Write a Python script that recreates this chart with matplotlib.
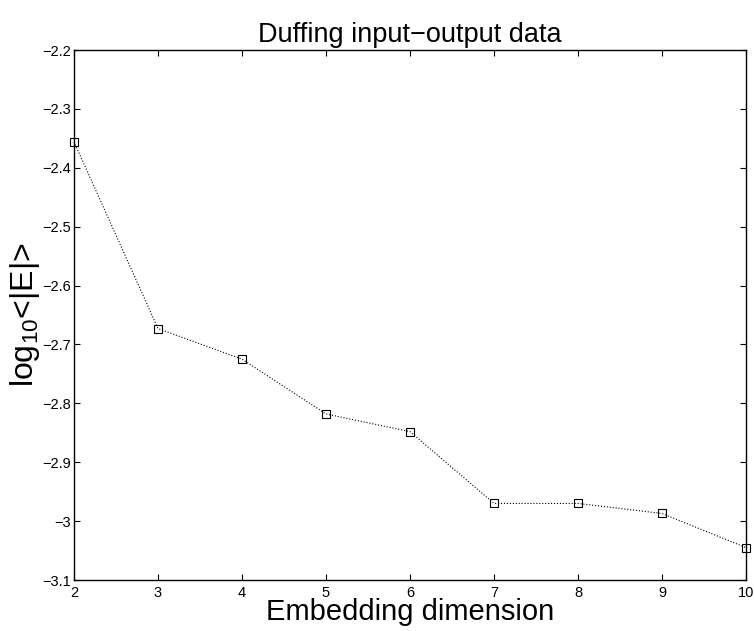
import matplotlib
matplotlib.use('Agg')
import matplotlib.pyplot as plt

# data
dims = [2, 3, 4, 5, 6, 7, 8, 9, 10]
log_err = [-2.356, -2.673, -2.725, -2.818, -2.848, -2.970, -2.970, -2.987, -3.045]
xticks = [2, 3, 4, 5, 6, 7, 8, 9, 10]
yticks = [-3.1, -3.0, -2.9, -2.8, -2.7, -2.6, -2.5, -2.4, -2.3, -2.2]
ytick_labels = ['\u22123.1', '\u22123', '\u22122.9', '\u22122.8', '\u22122.7',
                '\u22122.6', '\u22122.5', '\u22122.4', '\u22122.3', '\u22122.2']

plt.rcParams['font.family'] = ['Liberation Sans', 'DejaVu Sans']
plt.rcParams['mathtext.default'] = 'regular'

fig = plt.figure(figsize=(7.54, 6.31), dpi=100)
ax = fig.add_axes([74 / 754, 51 / 631, 672 / 754, 530 / 631])

ax.plot(dims, log_err, color='black', linestyle=':', linewidth=0.8,
        marker='s', markersize=5.5, markerfacecolor='none',
        markeredgecolor='black', markeredgewidth=0.8, clip_on=False)

ax.set_xlim(2, 10)
ax.set_ylim(-3.1, -2.2)
ax.set_xticks(xticks)
ax.set_xticklabels([str(t) for t in xticks])
ax.set_yticks(yticks)
ax.set_yticklabels(ytick_labels)

ax.tick_params(direction='in', length=4.5, width=0.8, labelsize=10.5,
               top=True, right=True)
ax.tick_params(axis='x', pad=4)
ax.tick_params(axis='y', pad=2)
for s in ax.spines.values():
    s.set_linewidth(1.0)

ax.set_title('Duffing input\u2212output data', fontsize=19.5, pad=6)
ax.set_xlabel('Embedding dimension', fontsize=21, labelpad=-1)
ax.set_ylabel('log$_{10}$<|E|>', fontsize=23, labelpad=0)

fig.savefig('out.png', dpi=100)
